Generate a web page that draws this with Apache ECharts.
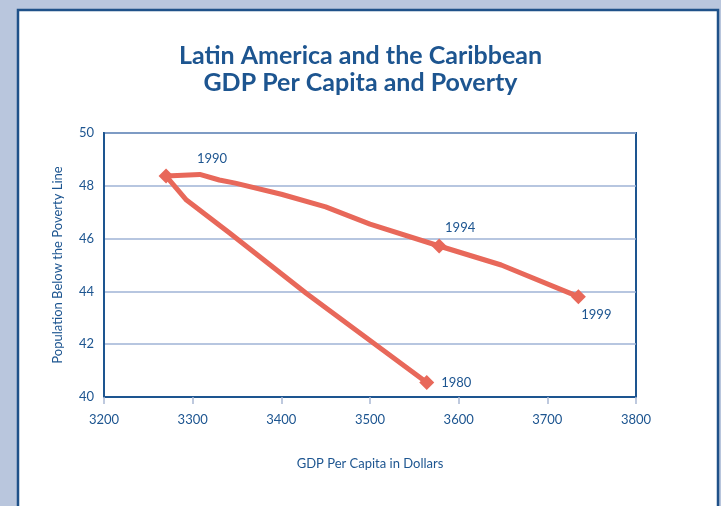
<!DOCTYPE html>
<html>
<head>
<meta charset="utf-8">
<script src="https://cdn.jsdelivr.net/npm/echarts@6/dist/echarts.min.js"></script>
<style>
  html, body { margin: 0; padding: 0; background: #b9c6dd; }
  #chart { width: 721px; height: 506px; }
</style>
</head>
<body>
<div id="chart"></div>
<script>
// GDP per capita (US$) vs. share of population below the poverty line (%),
// traced in time order 1980 -> 1990 -> 1994 -> 1999.
const gdpPerCapita = [3564, 3428, 3342, 3293, 3270, 3308, 3330, 3348, 3400, 3450, 3500, 3578, 3648, 3735];
const povertyShare = [40.55, 43.93, 46.2, 47.46, 48.37, 48.43, 48.22, 48.1, 47.68, 47.2, 46.55, 45.72, 45.0, 43.8];

// Years that get a diamond marker and a label, with their index in the path above.
const markedYears = ['1980', '1990', '1994', '1999'];
const markedIndex = [0, 4, 11, 13];
const labelSide = ['right', 'top', 'top', 'bottom'];

const xTicks = [3200, 3300, 3400, 3500, 3600, 3700, 3800];
const yTicks = [40, 42, 44, 46, 48, 50];

const navy = '#1d5590';
const lineRed = '#e8685a';
const fontFamily = 'Lato, "Open Sans", sans-serif';

const pathData = gdpPerCapita.map((x, i) => [x, povertyShare[i]]);
const markerData = markedYears.map((yr, k) => {
  const i = markedIndex[k];
  return {
    name: yr,
    value: [gdpPerCapita[i], povertyShare[i]],
    label: { position: labelSide[k] }
  };
});
// small label nudges so text sits beside its marker
markerData[0].label.offset = [2, 0];
markerData[1].label.offset = [46, 2];
markerData[2].label.offset = [21, 1];
markerData[3].label.offset = [18, -1];

const chart = echarts.init(document.getElementById('chart'), null, { renderer: 'canvas' });

chart.setOption({
  backgroundColor: '#b9c6dd',
  animation: false,
  graphic: [
    {
      type: 'rect',
      z: -10,
      shape: { x: 18, y: 10, width: 700, height: 520 },
      style: { fill: '#ffffff', stroke: '#1f5189', lineWidth: 2.5 }
    },
    {
      type: 'text',
      left: 'center',
      top: 42,
      style: {
        text: 'Latin America and the Caribbean\nGDP Per Capita and Poverty',
        fill: navy,
        font: 'bold 25px ' + fontFamily,
        textAlign: 'center',
        lineHeight: 27
      }
    }
  ],
  grid: {
    left: 104, right: 85, top: 133, bottom: 109,
    show: true, borderColor: navy, borderWidth: 2, backgroundColor: 'transparent'
  },
  xAxis: {
    type: 'value',
    min: xTicks[0], max: xTicks[xTicks.length - 1], interval: 100,
    name: 'GDP Per Capita in Dollars',
    nameLocation: 'middle', nameGap: 60,
    nameTextStyle: { color: navy, fontSize: 13, fontFamily },
    axisLine: { show: true, lineStyle: { color: navy, width: 2 } },
    axisTick: { show: true, length: 7, lineStyle: { color: '#a9b8d4', width: 1.5 } },
    axisLabel: { color: navy, fontSize: 13, margin: 16, fontFamily, formatter: v => String(v) },
    splitLine: { show: false }
  },
  yAxis: {
    type: 'value',
    min: yTicks[0], max: yTicks[yTicks.length - 1], interval: 2,
    name: 'Population Below the Poverty Line',
    nameLocation: 'middle', nameGap: 40,
    nameTextStyle: { color: navy, fontSize: 13, fontFamily },
    axisLine: { show: true, lineStyle: { color: navy, width: 2 } },
    axisTick: { show: false },
    axisLabel: { color: navy, fontSize: 13, margin: 10, fontFamily },
    splitLine: { show: true, lineStyle: { color: '#9fb3d6', width: 1.5 } }
  },
  series: [
    {
      type: 'line',
      data: pathData,
      showSymbol: false,
      smooth: false,
      lineStyle: { color: lineRed, width: 5, join: 'round', cap: 'round' },
      z: 3
    },
    {
      type: 'scatter',
      data: markerData,
      symbol: 'diamond',
      symbolSize: 15,
      itemStyle: { color: lineRed, opacity: 1 },
      label: {
        show: true,
        formatter: p => p.name,
        color: navy,
        fontSize: 13,
        fontFamily
      },
      z: 4
    }
  ]
});
</script>
</body>
</html>
